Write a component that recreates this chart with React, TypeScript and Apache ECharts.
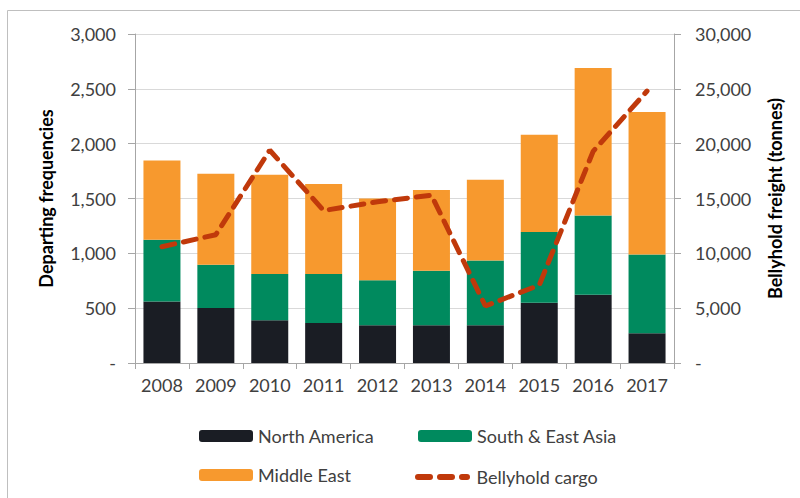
import React, { useEffect, useRef } from "react";
import * as echarts from "echarts";

const years = ["2008", "2009", "2010", "2011", "2012", "2013", "2014", "2015", "2016", "2017"];
const northAmerica = [560, 502, 390, 365, 345, 345, 345, 550, 623, 272];
const southEastAsia = [565, 395, 422, 446, 410, 497, 590, 644, 722, 718];
const middleEast = [722, 828, 904, 822, 745, 735, 735, 887, 1344, 1298];
const bellyhold = [10600, 11700, 19400, 13900, 14700, 15300, 5200, 7100, 19300, 24800];

const FONT = "Lato, 'Noto Sans', sans-serif";
const fmt = (v: number) => (v === 0 ? "-" : v.toLocaleString("en-US"));

export default function App() {
  const ref = useRef<HTMLDivElement>(null);
  useEffect(() => {
    document.body.style.margin = "0";
    const chart = echarts.init(ref.current!, null, { renderer: "svg" });
    const legendBase = {
      orient: "horizontal" as const,
      itemWidth: 54,
      itemHeight: 12,
      itemGap: 0,
      itemTextGap: 7,
      textStyle: { fontFamily: FONT, fontSize: 18, color: "#404040" },
      padding: 0,
    };
    chart.setOption({
      animation: false,
      backgroundColor: "#ffffff",
      textStyle: { fontFamily: FONT },
      graphic: [
        { type: "line", shape: { x1: 7.5, y1: 10.5, x2: 800, y2: 10.5 }, style: { stroke: "#BFBFBF", lineWidth: 1 } },
        { type: "line", shape: { x1: 7.5, y1: 10.5, x2: 7.5, y2: 498 }, style: { stroke: "#BFBFBF", lineWidth: 1 } },
      ],
      grid: { left: 135, right: 126, top: 34, bottom: 135 },
      legend: [
        { ...legendBase, left: 199, top: 427, data: ["North America"] },
        { ...legendBase, left: 199, top: 466, data: ["Middle East"] },
        { ...legendBase, left: 418, top: 427, data: ["South & East Asia"] },
        {
          ...legendBase,
          left: 415,
          top: 468,
          itemWidth: 58,
          itemHeight: 6,
          data: [
            {
              name: "Bellyhold cargo",
              icon: "path://M3,0h12a3,3 0 0 1 0,6h-12a3,3 0 0 1 0,-6z M25,0h12a3,3 0 0 1 0,6h-12a3,3 0 0 1 0,-6z M47,0h5a3,3 0 0 1 0,6h-5a3,3 0 0 1 0,-6z",
            },
          ],
        },
      ],
      xAxis: {
        type: "category",
        data: years,
        boundaryGap: true,
        axisLine: { show: true, lineStyle: { color: "#A6A6A6", width: 1 } },
        axisTick: { show: true, alignWithLabel: false, interval: 0, length: 6, lineStyle: { color: "#A6A6A6" } },
        axisLabel: { fontFamily: FONT, fontSize: 18, color: "#404040", margin: 13, interval: 0 },
      },
      yAxis: [
        {
          type: "value",
          min: 0,
          max: 3000,
          interval: 500,
          name: "Departing frequencies",
          nameLocation: "middle",
          nameGap: 80,
          nameTextStyle: { fontFamily: FONT, fontSize: 18, fontWeight: "bold", color: "#000000" },
          axisLine: { show: true, lineStyle: { color: "#A6A6A6", width: 1 } },
          axisTick: { show: true, length: 7, lineStyle: { color: "#A6A6A6" } },
          axisLabel: { fontFamily: FONT, fontSize: 18, color: "#404040", margin: 19, formatter: fmt },
          splitLine: { show: true, lineStyle: { color: "#D9D9D9", width: 1 } },
        },
        {
          type: "value",
          min: 0,
          max: 30000,
          interval: 5000,
          position: "right",
          name: "Bellyhold freight (tonnes)",
          nameLocation: "middle",
          nameGap: 92,
          nameRotate: 90,
          nameTextStyle: { fontFamily: FONT, fontSize: 18, fontWeight: "bold", color: "#000000" },
          axisLine: { show: true, lineStyle: { color: "#A6A6A6", width: 1 } },
          axisTick: { show: true, length: 7, lineStyle: { color: "#A6A6A6" } },
          axisLabel: { fontFamily: FONT, fontSize: 18, color: "#404040", margin: 21, formatter: fmt },
          splitLine: { show: false },
        },
      ],
      series: [
        {
          name: "North America",
          type: "bar",
          stack: "total",
          barWidth: 37,
          data: northAmerica,
          itemStyle: { color: "#1A1D24" },
        },
        {
          name: "South & East Asia",
          type: "bar",
          stack: "total",
          barWidth: 37,
          data: southEastAsia,
          itemStyle: { color: "#008A5E" },
        },
        {
          name: "Middle East",
          type: "bar",
          stack: "total",
          barWidth: 37,
          data: middleEast,
          itemStyle: { color: "#F7992E" },
        },
        {
          name: "Bellyhold cargo",
          type: "line",
          yAxisIndex: 1,
          data: bellyhold,
          symbol: "none",
          showSymbol: false,
          itemStyle: { color: "#C0390B" },
          lineStyle: { color: "#C0390B", width: 5, type: [13, 9], cap: "round" },
          z: 5,
        },
      ],
    });
    return () => chart.dispose();
  }, []);
  return <div ref={ref} style={{ width: 800, height: 498 }} />;
}
